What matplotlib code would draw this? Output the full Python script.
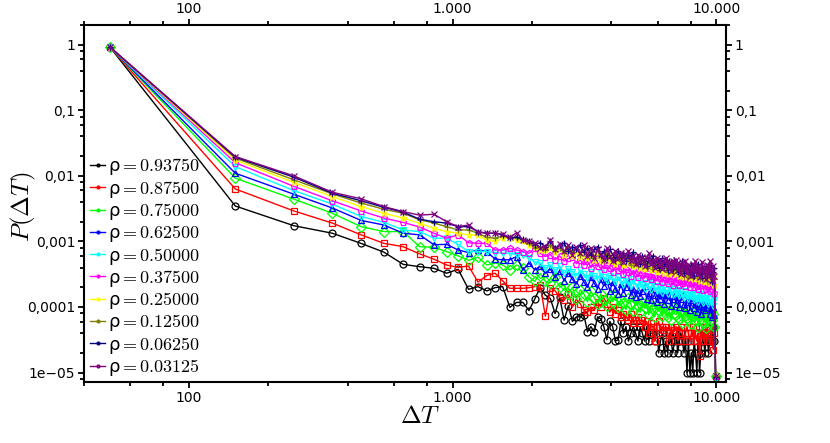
import numpy as np
import matplotlib
matplotlib.use("Agg")
import matplotlib.pyplot as plt
from matplotlib.lines import Line2D
from matplotlib.ticker import FixedLocator, FixedFormatter, LogLocator, NullFormatter

plt.rcParams['mathtext.fontset'] = 'cm'

# time windows Delta T (bin centres)
dt = np.arange(50, 10000, 100)

rho_labels = ['0.93750', '0.87500', '0.75000', '0.62500', '0.50000',
              '0.37500', '0.25000', '0.12500', '0.06250', '0.03125']
colors = ['#000000', '#ff0000', '#00ff00', '#0000ff', '#00ffff',
          '#ff00ff', '#ffff00', '#808000', '#000080', '#800080']
markers = ['o', 's', 'D', '^', 'v', 'p', '*', '+', '+', 'x']

# log10 P(Delta T)
logp_093750 = [
    -0.03, -2.46, -2.76, -2.875, -3.03, -3.165, -3.35, -3.385, -3.41, -3.485,
    -3.425, -3.73, -3.69, -3.755, -3.705, -3.69, -4.005, -3.93, -3.93, -4.055,
    -3.88, -3.705, -3.82, -3.87, -4.1, -3.85, -4.2, -3.98, -4.22, -4.15,
    -4.15, -4.12, -4.38, -4.3, -4.38, -4.15, -4.18, -4.3, -4.5, -4.22,
    -4.3, -4.52, -4.5, -4.22, -4.4, -4.3, -4.52, -4.4, -4.3, -4.4,
    -4.52, -4.3, -4.4, -4.52, -4.3, -4.52, -4.4, -4.4, -4.52, -4.3,
    -4.7, -4.52, -4.4, -4.7, -4.52, -4.7, -4.4, -4.52, -4.7, -4.52,
    -4.4, -4.7, -4.52, -4.4, -4.52, -4.7, -4.52, -5.0, -4.52, -5.0,
    -4.7, -5.0, -4.52, -4.7, -5.0, -4.4, -5.0, -4.7, -4.52, -4.4,
    -4.7, -4.52, -4.4, -4.7, -4.52, -4.4, -4.52, -4.3, -4.52, -5.07]
logp_087500 = [
    -0.03, -2.20, -2.535, -2.72, -2.90, -3.03, -3.08, -3.19, -3.27, -3.36,
    -3.395, -3.375, -3.62, -3.52, -3.485, -3.6, -3.715, -3.715, -3.715, -3.705,
    -3.69, -3.665, -4.14, -3.71, -3.75, -3.86, -3.9, -3.8, -4.0, -3.88,
    -3.95, -4.05, -4.08, -4.0, -4.05, -3.92, -4.0, -3.86, -3.95, -4.08,
    -4.0, -4.1, -4.05, -4.15, -4.1, -4.15, -4.2, -4.1, -4.25, -4.2,
    -4.15, -4.25, -4.2, -4.3, -4.22, -4.4, -4.25, -4.3, -4.52, -4.3,
    -4.22, -4.4, -4.3, -4.35, -4.3, -4.4, -4.52, -4.3, -4.4, -4.35,
    -4.3, -4.52, -4.4, -4.3, -4.4, -4.52, -4.4, -4.3, -4.4, -4.52,
    -4.4, -4.3, -4.52, -4.4, -4.52, -4.4, -4.75, -4.4, -4.3, -4.52,
    -4.4, -4.3, -4.52, -4.4, -4.35, -4.4, -4.52, -4.65, -4.4, -5.05]
logp_075000 = [
    -0.03, -2.035, -2.355, -2.57, -2.775, -2.85, -2.85, -3.08, -3.09, -3.155,
    -3.22, -3.29, -3.24, -3.36, -3.33, -3.36, -3.435, -3.36, -3.41, -3.54,
    -3.61, -3.485, -3.61, -3.63, -3.55, -3.7, -3.66, -3.8, -3.7, -3.88,
    -3.74, -3.8, -3.92, -3.76, -3.86, -3.95, -3.8, -3.9, -3.98, -3.84,
    -3.92, -3.82, -4.0, -3.88, -3.94, -4.04, -3.86, -3.96, -4.06, -3.9,
    -3.98, -4.08, -3.92, -4.02, -3.95, -4.12, -3.98, -4.04, -4.15, -3.96,
    -4.06, -4.0, -4.14, -4.02, -3.98, -4.16, -4.06, -4.2, -4.0, -4.1,
    -4.12, -4.02, -4.18, -4.06, -4.24, -4.08, -4.14, -4.02, -4.2, -4.1,
    -4.26, -4.06, -4.14, -4.22, -4.08, -4.3, -4.1, -4.18, -4.04, -4.24,
    -4.12, -4.32, -4.1, -4.18, -4.24, -4.06, -4.2, -4.1, -4.3, -5.06]
logp_062500 = [
    -0.03, -1.96, -2.28, -2.49, -2.68, -2.75, -2.875, -2.9, -3.05, -3.045,
    -3.13, -3.17, -3.13, -3.155, -3.27, -3.28, -3.28, -3.23, -3.435, -3.33,
    -3.435, -3.38, -3.485, -3.42, -3.55, -3.45, -3.6, -3.48, -3.58, -3.65,
    -3.52, -3.62, -3.7, -3.55, -3.64, -3.72, -3.58, -3.68, -3.6, -3.75,
    -3.62, -3.72, -3.8, -3.65, -3.78, -3.7, -3.62, -3.82, -3.72, -3.85,
    -3.74, -3.84, -3.76, -3.68, -3.88, -3.78, -3.9, -3.72, -3.82, -3.92,
    -3.78, -3.88, -3.8, -3.95, -3.82, -3.9, -3.76, -3.98, -3.88, -3.84,
    -3.95, -3.85, -4.0, -3.88, -3.8, -3.96, -4.02, -3.86, -3.92, -4.05,
    -3.9, -3.86, -4.02, -3.94, -4.08, -3.88, -3.98, -4.1, -3.92, -4.0,
    -4.05, -3.92, -4.02, -3.96, -4.1, -3.94, -4.15, -4.0, -4.12, -5.04]
logp_050000 = [
    -0.03, -1.86, -2.225, -2.43, -2.62, -2.71, -2.825, -2.85, -2.95, -2.95,
    -3.045, -3.155, -3.155, -3.155, -3.17, -3.18, -3.18, -3.2, -3.21, -3.25,
    -3.31, -3.33, -3.41, -3.36, -3.44, -3.38, -3.48, -3.42, -3.46, -3.52,
    -3.44, -3.5, -3.56, -3.46, -3.52, -3.58, -3.48, -3.54, -3.6, -3.52,
    -3.56, -3.62, -3.54, -3.6, -3.66, -3.56, -3.62, -3.68, -3.58, -3.64,
    -3.7, -3.6, -3.66, -3.72, -3.64, -3.68, -3.74, -3.62, -3.7, -3.76,
    -3.68, -3.72, -3.78, -3.7, -3.74, -3.8, -3.7, -3.76, -3.82, -3.72,
    -3.78, -3.74, -3.84, -3.76, -3.8, -3.86, -3.76, -3.82, -3.88, -3.78,
    -3.84, -3.8, -3.9, -3.82, -3.86, -3.92, -3.8, -3.88, -3.84, -3.94,
    -3.86, -3.9, -3.82, -3.96, -3.88, -3.92, -3.84, -3.98, -3.9, -5.08]
logp_037500 = [
    -0.03, -1.80, -2.16, -2.38, -2.535, -2.645, -2.71, -2.78, -2.875, -2.95,
    -2.9, -3.02, -3.03, -3.03, -3.13, -3.13, -3.105, -3.13, -3.155, -3.18,
    -3.105, -3.18, -3.23, -3.2, -3.28, -3.22, -3.3, -3.26, -3.24, -3.34,
    -3.28, -3.36, -3.3, -3.4, -3.32, -3.38, -3.34, -3.42, -3.36, -3.4,
    -3.46, -3.38, -3.44, -3.4, -3.5, -3.42, -3.46, -3.52, -3.44, -3.48,
    -3.54, -3.46, -3.5, -3.56, -3.48, -3.52, -3.58, -3.5, -3.54, -3.6,
    -3.5, -3.56, -3.62, -3.54, -3.58, -3.64, -3.52, -3.6, -3.66, -3.56,
    -3.62, -3.58, -3.66, -3.6, -3.64, -3.56, -3.68, -3.62, -3.58, -3.7,
    -3.64, -3.6, -3.7, -3.62, -3.68, -3.72, -3.64, -3.66, -3.6, -3.74,
    -3.66, -3.72, -3.68, -3.64, -3.76, -3.68, -3.72, -3.66, -3.78, -5.05]
logp_025000 = [
    -0.03, -1.76, -2.10, -2.315, -2.47, -2.57, -2.645, -2.72, -2.80, -2.85,
    -2.875, -2.9, -2.9, -2.98, -3.0, -2.95, -2.95, -2.98, -3.0, -3.05,
    -3.08, -3.13, -3.13, -3.1, -3.16, -3.12, -3.2, -3.14, -3.22, -3.16,
    -3.24, -3.18, -3.26, -3.2, -3.28, -3.22, -3.3, -3.24, -3.2, -3.3,
    -3.26, -3.34, -3.28, -3.32, -3.36, -3.26, -3.34, -3.3, -3.38, -3.32,
    -3.36, -3.4, -3.32, -3.42, -3.36, -3.38, -3.44, -3.34, -3.4, -3.46,
    -3.38, -3.44, -3.4, -3.48, -3.42, -3.38, -3.5, -3.44, -3.46, -3.4,
    -3.5, -3.44, -3.52, -3.46, -3.42, -3.54, -3.48, -3.5, -3.44, -3.56,
    -3.5, -3.46, -3.58, -3.5, -3.54, -3.48, -3.6, -3.52, -3.56, -3.5,
    -3.62, -3.54, -3.58, -3.5, -3.64, -3.56, -3.6, -3.52, -3.66, -5.03]
logp_012500 = [
    -0.03, -1.73, -2.06, -2.275, -2.415, -2.51, -2.57, -2.67, -2.72, -2.775,
    -2.825, -2.825, -2.875, -2.94, -2.95, -2.92, -2.93, -2.95, -2.98, -3.02,
    -3.1, -3.08, -3.13, -3.05, -3.14, -3.1, -3.18, -3.08, -3.16, -3.12,
    -3.2, -3.12, -3.22, -3.16, -3.26, -3.14, -3.2, -3.28, -3.18, -3.24,
    -3.3, -3.2, -3.26, -3.34, -3.22, -3.28, -3.24, -3.36, -3.26, -3.3,
    -3.38, -3.28, -3.34, -3.26, -3.4, -3.32, -3.3, -3.42, -3.34, -3.36,
    -3.3, -3.44, -3.36, -3.4, -3.32, -3.46, -3.38, -3.34, -3.48, -3.4,
    -3.44, -3.36, -3.5, -3.42, -3.38, -3.52, -3.44, -3.4, -3.54, -3.46,
    -3.42, -3.56, -3.48, -3.44, -3.52, -3.4, -3.58, -3.46, -3.5, -3.44,
    -3.56, -3.48, -3.6, -3.45, -3.54, -3.5, -3.62, -3.48, -3.58, -5.06]
logp_006250 = [
    -0.03, -1.715, -2.02, -2.265, -2.38, -2.48, -2.555, -2.66, -2.70, -2.72,
    -2.775, -2.775, -2.85, -2.875, -2.875, -2.9, -2.95, -2.93, -2.97, -3.0,
    -3.05, -3.02, -3.08, -3.0, -3.1, -3.06, -3.03, -3.14, -3.08, -3.12,
    -3.06, -3.16, -3.1, -3.2, -3.12, -3.08, -3.22, -3.15, -3.25, -3.12,
    -3.2, -3.28, -3.15, -3.24, -3.18, -3.3, -3.2, -3.26, -3.16, -3.32,
    -3.24, -3.35, -3.22, -3.3, -3.38, -3.26, -3.32, -3.22, -3.36, -3.28,
    -3.4, -3.3, -3.26, -3.38, -3.32, -3.44, -3.3, -3.36, -3.42, -3.28,
    -3.38, -3.46, -3.34, -3.4, -3.3, -3.48, -3.36, -3.44, -3.38, -3.5,
    -3.36, -3.46, -3.52, -3.38, -3.44, -3.34, -3.5, -3.42, -3.56, -3.4,
    -3.48, -3.38, -3.55, -3.44, -3.5, -3.36, -3.62, -3.46, -3.4, -5.07]
logp_003125 = [
    -0.03, -1.705, -2.0, -2.25, -2.35, -2.47, -2.545, -2.60, -2.585, -2.70,
    -2.775, -2.75, -2.86, -2.875, -2.875, -2.89, -2.94, -2.865, -2.98, -3.0,
    -3.02, -3.1, -3.08, -2.98, -3.12, -3.04, -3.15, -3.06, -3.2, -3.08,
    -3.18, -3.05, -3.22, -3.1, -3.25, -3.12, -3.2, -3.28, -3.1, -3.22,
    -3.3, -3.15, -3.26, -3.18, -3.32, -3.2, -3.14, -3.3, -3.22, -3.35,
    -3.2, -3.32, -3.24, -3.38, -3.26, -3.18, -3.35, -3.28, -3.4, -3.25,
    -3.36, -3.28, -3.42, -3.3, -3.25, -3.4, -3.32, -3.45, -3.3, -3.38,
    -3.28, -3.44, -3.35, -3.5, -3.32, -3.42, -3.3, -3.48, -3.36, -3.4,
    -3.52, -3.35, -3.45, -3.3, -3.5, -3.38, -3.55, -3.4, -3.32, -3.48,
    -3.42, -3.58, -3.36, -3.5, -3.3, -3.45, -3.6, -3.38, -3.52, -5.05]

series = [logp_093750, logp_087500, logp_075000, logp_062500, logp_050000,
          logp_037500, logp_025000, logp_012500, logp_006250, logp_003125]

xticks = [100, 1000, 10000]
xticklabels = ['100', '1.000', '10.000']
yticks = [1, 0.1, 0.01, 0.001, 0.0001, 1e-05]
yticklabels = ['1', '0,1', '0,01', '0,001', '0,0001', '1e\u221205']

fig = plt.figure(figsize=(8.3, 4.43), dpi=100)
ax = fig.add_axes([0.1012, 0.137, 0.7735, 0.8066])

for logp, c, m in zip(series, colors, markers):
    ax.plot(dt, 10 ** np.array(logp), color=c, marker=m, ms=5,
            mfc='none', mew=0.9, lw=1.0)

ax.set_xscale('log')
ax.set_yscale('log')
ax.set_xlim(40, 10900)
ax.set_ylim(7.1e-6, 2.0)

ax.xaxis.set_major_locator(FixedLocator(xticks))
ax.xaxis.set_major_formatter(FixedFormatter(xticklabels))
ax.xaxis.set_minor_locator(LogLocator(base=10, subs=(2, 4, 6, 8)))
ax.xaxis.set_minor_formatter(NullFormatter())
ax.yaxis.set_major_locator(FixedLocator(yticks))
ax.yaxis.set_major_formatter(FixedFormatter(yticklabels))
ax.yaxis.set_minor_locator(LogLocator(base=10, subs=(2, 4, 6, 8)))
ax.yaxis.set_minor_formatter(NullFormatter())

ax.tick_params(which='both', direction='out', top=True, right=True,
               labeltop=True, labelright=True, width=1.3, labelsize=10)
ax.tick_params(which='major', length=4.3, pad=2)
ax.tick_params(which='minor', length=3)
for s in ax.spines.values():
    s.set_linewidth(1.5)

ax.set_xlabel(r'$\mathit{\Delta T}$', fontsize=18)
ax.xaxis.set_label_coords(0.523, -0.062)
ax.set_ylabel(r'$P(\mathit{\Delta T})$', fontsize=18)
ax.yaxis.set_label_coords(-0.072, 0.49)

handles = [Line2D([0], [0], color=c, marker='.', ms=4, lw=1.0) for c in colors]
labels = ['\u03c1${=}' + r + '$' for r in rho_labels]
ax.legend(handles, labels, loc='upper left', bbox_to_anchor=(0.01, 0.632),
          frameon=False, fontsize=13, handlelength=0.8, handletextpad=0.2,
          labelspacing=0.07, borderpad=0, borderaxespad=0)

fig.savefig('out.png', dpi=100)
